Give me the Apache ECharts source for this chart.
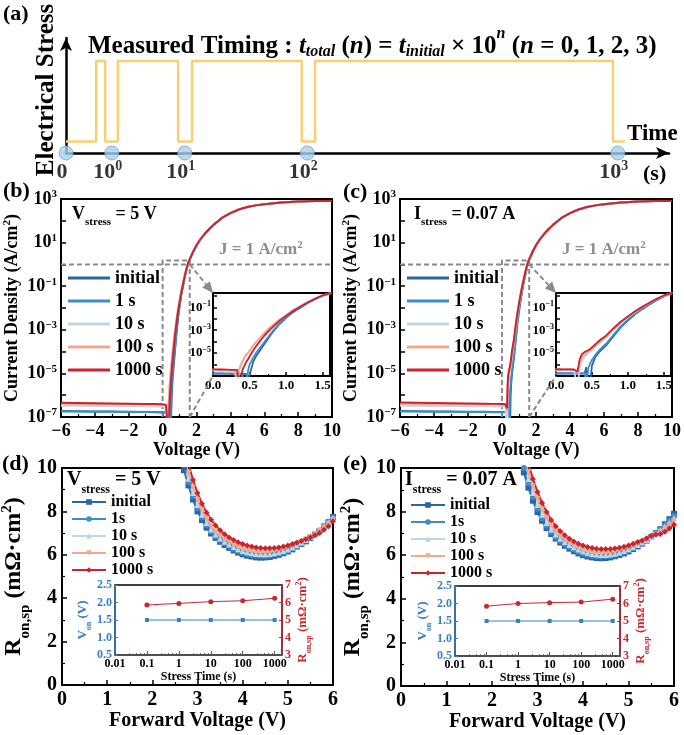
<!DOCTYPE html>
<html>
<head>
<meta charset="utf-8">
<script src="https://cdn.jsdelivr.net/npm/echarts@6/dist/echarts.min.js"></script>
<style>
html, body { margin: 0; padding: 0; background: #fff; }
#chart { width: 684px; height: 735px; }
</style>
</head>
<body>
<div id="chart"></div>
<script>
// ---- (a) timing schematic (arbitrary time units, 0..100) ----
const pulseT = [0, 5, 5, 6.5, 6.5, 8.6, 8.6, 18.6, 18.6, 20.9, 20.9, 39.1, 39.1, 41.3, 41.3, 90.7, 90.7, 92.7];
const pulseLevel = [1, 1, 8, 8, 1, 1, 8, 8, 1, 1, 8, 8, 1, 1, 8, 8, 1, 1];
const measureT = [0, 7.6, 19.7, 40, 91.5];
const measureExp = [null, 0, 1, 2, 3];

// ---- (b)/(c) J-V curves ----
const stressNames = ['initial', '1 s', '10 s', '100 s', '1000 s'];
const ivLowV = [-6, -5, -4, -3, -2, -1, -0.5, 0, 0.1, 0.2, 0.25, 0.3, 0.33, 0.36, 0.38, 0.4, 0.42, 0.45, 0.48, 0.5, 0.55, 0.6, 0.7, 0.8, 0.9, 1.0, 1.1, 1.2, 1.3, 1.4, 1.5];
const ivHighV = [1.6, 1.8, 2.0, 2.25, 2.5, 2.75, 3, 3.5, 4, 4.5, 5, 5.5, 6, 7, 8, 9, 10];
const ivHighJ = [1.7, 3.8, 7.5, 15, 26, 42, 65, 135, 225, 330, 430, 510, 580, 690, 760, 800, 820];

const jvB_initial = [1.9e-7, 1.85e-7, 1.8e-7, 1.78e-7, 1.75e-7, 1.7e-7, 1.68e-7, 1.65e-7, 1.65e-7, 1.6e-7, 1.6e-7, 1.6e-7, 1.6e-7, 1.6e-7, 1.6e-7, 1.6e-7, 1.55e-7, 1.5e-7, 1e-8, 1.2e-7, 1.8e-6, 7e-6, 6e-5, 5e-4, 3e-3, 1.2e-2, 4e-2, 0.1, 0.25, 0.55, 1.05];
const jvB_1s = [1.8e-7, 1.78e-7, 1.75e-7, 1.72e-7, 1.7e-7, 1.68e-7, 1.65e-7, 1.62e-7, 1.6e-7, 1.6e-7, 1.58e-7, 1.55e-7, 1.55e-7, 1.55e-7, 1.5e-7, 1.5e-7, 1.5e-7, 1e-8, 3e-7, 1e-6, 4e-6, 1.3e-5, 9e-5, 6e-4, 3.5e-3, 1.3e-2, 4.2e-2, 0.1, 0.26, 0.55, 1.05];
const jvB_10s = [3.3e-7, 3.3e-7, 3.2e-7, 3.2e-7, 3.1e-7, 3.1e-7, 3e-7, 3e-7, 3e-7, 3e-7, 2.9e-7, 2.9e-7, 1e-8, 5e-7, 1e-6, 2e-6, 3.5e-6, 7e-6, 1.2e-5, 1.8e-5, 5e-5, 1.2e-4, 6e-4, 2.5e-3, 8e-3, 2.2e-2, 6e-2, 0.14, 0.3, 0.6, 1.1];
const jvB_100s = [4.1e-7, 4e-7, 4e-7, 3.9e-7, 3.9e-7, 3.8e-7, 3.7e-7, 3.6e-7, 3.6e-7, 3.5e-7, 3.5e-7, 3.4e-7, 1e-8, 4e-7, 8e-7, 1.6e-6, 3e-6, 6e-6, 1e-5, 1.5e-5, 4.5e-5, 1.1e-4, 5.5e-4, 2.3e-3, 7.5e-3, 2.1e-2, 5.8e-2, 0.14, 0.3, 0.6, 1.1];
const jvB_1000s = [4.5e-7, 4.4e-7, 4.3e-7, 4.2e-7, 4.1e-7, 4e-7, 3.9e-7, 3.8e-7, 3.7e-7, 3.6e-7, 3.5e-7, 3.5e-7, 3.4e-7, 1e-8, 5e-8, 3e-7, 6e-7, 1.5e-6, 3e-6, 5e-6, 1.8e-5, 5e-5, 3.3e-4, 1.5e-3, 6e-3, 1.8e-2, 5e-2, 0.12, 0.28, 0.58, 1.1];

const jvC_initial = [1.9e-7, 1.85e-7, 1.8e-7, 1.78e-7, 1.75e-7, 1.72e-7, 1.7e-7, 1.7e-7, 1.7e-7, 1.7e-7, 1.7e-7, 1.7e-7, 1.7e-7, 1.7e-7, 1.7e-7, 1.8e-7, 6e-7, 1e-8, 5e-8, 8e-7, 5e-6, 1.2e-5, 5e-5, 3e-4, 1.8e-3, 7e-3, 2.5e-2, 7e-2, 0.18, 0.42, 0.9];
const jvC_1s = [1.8e-7, 1.78e-7, 1.75e-7, 1.72e-7, 1.7e-7, 1.68e-7, 1.66e-7, 1.65e-7, 1.65e-7, 1.65e-7, 1.65e-7, 1.65e-7, 1.65e-7, 1.65e-7, 1.65e-7, 1.65e-7, 1e-8, 5e-7, 1.5e-6, 2.5e-6, 7e-6, 1.8e-5, 7e-5, 4e-4, 2.2e-3, 8.5e-3, 2.8e-2, 7.5e-2, 0.19, 0.44, 0.92];
const jvC_10s = [3.3e-7, 3.3e-7, 3.2e-7, 3.2e-7, 3.1e-7, 3.1e-7, 3e-7, 3e-7, 3e-7, 3e-7, 3e-7, 1e-8, 6e-7, 2e-6, 3e-6, 5e-6, 7e-6, 1e-5, 1.4e-5, 1.8e-5, 3.5e-5, 7e-5, 2.5e-4, 1.1e-3, 4.5e-3, 1.4e-2, 4e-2, 0.1, 0.24, 0.52, 1.05];
const jvC_100s = [4.1e-7, 4e-7, 4e-7, 3.9e-7, 3.9e-7, 3.8e-7, 3.8e-7, 3.7e-7, 3.7e-7, 3.7e-7, 3.6e-7, 2e-7, 1.5e-6, 4e-6, 6e-6, 8e-6, 1e-5, 1.4e-5, 1.8e-5, 2.3e-5, 4.5e-5, 9e-5, 3e-4, 1.3e-3, 5e-3, 1.5e-2, 4.3e-2, 0.105, 0.25, 0.54, 1.08];
const jvC_1000s = [4.6e-7, 4.5e-7, 4.4e-7, 4.3e-7, 4.2e-7, 4.1e-7, 4e-7, 3.9e-7, 3.8e-7, 3.8e-7, 3.7e-7, 2.5e-7, 3e-6, 8e-6, 1e-5, 1.3e-5, 1.5e-5, 1.8e-5, 2.4e-5, 3e-5, 6e-5, 1.2e-4, 3.5e-4, 1.5e-3, 5.5e-3, 1.6e-2, 4.5e-2, 0.11, 0.25, 0.55, 1.1];

const jvB = [jvB_initial, jvB_1s, jvB_10s, jvB_100s, jvB_1000s];
const jvC = [jvC_initial, jvC_1s, jvC_10s, jvC_100s, jvC_1000s];

// zoomed window shown by the insets
const zoomV = [0, 1.6];
const zoomJ = [1e-7, 1.5];
const insetJmax = 1.8;
const guideJ = 1;

// ---- (d)/(e) Ron,sp vs forward voltage ----
const ronNames = ['initial', '1s', '10 s', '100 s', '1000 s'];
const ronV = [2.6, 2.7, 2.8, 2.9, 3.0, 3.1, 3.2, 3.3, 3.4, 3.5, 3.6, 3.7, 3.8, 3.9, 4.0, 4.1, 4.2, 4.3, 4.4, 4.5, 4.6, 4.7, 4.8, 4.9, 5.0, 5.1, 5.2, 5.3, 5.4, 5.5, 5.6, 5.7, 5.8, 5.9, 6.0];

const ronD_initial = [10.6, 9.9, 9.2, 8.55, 8.0, 7.6, 7.25, 6.98, 6.78, 6.6, 6.45, 6.32, 6.2, 6.1, 6.02, 5.96, 5.92, 5.88, 5.87, 5.88, 5.9, 5.95, 6.0, 6.07, 6.15, 6.25, 6.38, 6.5, 6.62, 6.78, 6.95, 7.1, 7.3, 7.5, 7.75];
const ronD_1s = [10.8, 10.05, 9.35, 8.7, 8.15, 7.72, 7.36, 7.07, 6.86, 6.68, 6.53, 6.4, 6.28, 6.18, 6.1, 6.04, 6.0, 5.97, 5.96, 5.96, 5.98, 6.02, 6.07, 6.13, 6.21, 6.31, 6.42, 6.54, 6.66, 6.8, 6.96, 7.12, 7.32, 7.52, 7.72];
const ronD_10s = [11.0, 10.25, 9.5, 8.85, 8.3, 7.85, 7.47, 7.17, 6.94, 6.75, 6.6, 6.47, 6.36, 6.26, 6.18, 6.12, 6.07, 6.04, 6.02, 6.02, 6.04, 6.07, 6.12, 6.18, 6.25, 6.34, 6.44, 6.56, 6.68, 6.82, 6.97, 7.12, 7.3, 7.5, 7.68];
const ronD_100s = [11.2, 10.5, 9.75, 9.1, 8.52, 8.05, 7.65, 7.32, 7.07, 6.87, 6.71, 6.58, 6.47, 6.37, 6.29, 6.22, 6.17, 6.14, 6.12, 6.12, 6.13, 6.16, 6.2, 6.26, 6.33, 6.41, 6.5, 6.6, 6.71, 6.83, 6.96, 7.1, 7.26, 7.43, 7.62];
const ronD_1000s = [11.6, 10.9, 10.2, 9.45, 8.85, 8.35, 7.95, 7.62, 7.35, 7.13, 6.95, 6.8, 6.68, 6.58, 6.5, 6.43, 6.38, 6.34, 6.31, 6.3, 6.3, 6.31, 6.34, 6.38, 6.43, 6.5, 6.57, 6.64, 6.72, 6.8, 6.9, 7.0, 7.15, 7.32, 7.55];

const ronE_initial = [10.5, 9.8, 9.1, 8.5, 7.98, 7.58, 7.24, 6.97, 6.76, 6.58, 6.43, 6.3, 6.18, 6.08, 6.0, 5.94, 5.9, 5.87, 5.86, 5.87, 5.9, 5.95, 6.01, 6.08, 6.17, 6.28, 6.4, 6.53, 6.67, 6.83, 7.0, 7.2, 7.42, 7.65, 7.9];
const ronE_1s = [10.7, 10.0, 9.3, 8.67, 8.13, 7.7, 7.35, 7.06, 6.84, 6.66, 6.51, 6.38, 6.26, 6.16, 6.08, 6.02, 5.98, 5.95, 5.94, 5.95, 5.97, 6.02, 6.08, 6.15, 6.24, 6.34, 6.46, 6.58, 6.72, 6.87, 7.03, 7.2, 7.38, 7.58, 7.8];
const ronE_10s = [10.9, 10.2, 9.5, 8.85, 8.3, 7.86, 7.48, 7.18, 6.95, 6.76, 6.6, 6.47, 6.36, 6.26, 6.18, 6.11, 6.06, 6.03, 6.01, 6.01, 6.03, 6.07, 6.12, 6.19, 6.27, 6.36, 6.47, 6.58, 6.7, 6.84, 6.99, 7.15, 7.32, 7.5, 7.7];
const ronE_100s = [11.2, 10.5, 9.8, 9.15, 8.58, 8.1, 7.7, 7.37, 7.11, 6.9, 6.73, 6.59, 6.47, 6.37, 6.28, 6.21, 6.16, 6.13, 6.11, 6.11, 6.12, 6.15, 6.2, 6.26, 6.33, 6.41, 6.5, 6.6, 6.7, 6.82, 6.94, 7.08, 7.22, 7.38, 7.56];
const ronE_1000s = [11.7, 10.95, 10.2, 9.5, 8.9, 8.4, 7.98, 7.62, 7.33, 7.1, 6.91, 6.76, 6.63, 6.53, 6.45, 6.38, 6.33, 6.3, 6.28, 6.28, 6.29, 6.31, 6.34, 6.39, 6.45, 6.52, 6.6, 6.68, 6.78, 6.88, 6.95, 6.97, 7.08, 7.22, 7.4];

const ronD = [ronD_initial, ronD_1s, ronD_10s, ronD_100s, ronD_1000s];
const ronE = [ronE_initial, ronE_1s, ronE_10s, ronE_100s, ronE_1000s];

// insets of (d)/(e)
const stressTime = [0.1, 1, 10, 100, 1000];
const vonD = [1.5, 1.5, 1.5, 1.5, 1.5];
const ronSpD = [5.86, 5.95, 6.05, 6.1, 6.24];
const vonE = [1.5, 1.5, 1.5, 1.5, 1.5];
const ronSpE = [5.85, 6.0, 6.05, 6.08, 6.25];

const seriesColors = ['#2b65a7', '#3d8dc9', '#bfd5e8', '#f0a98f', '#c9252d'];
const ronSymbols = ['rect', 'circle', 'triangle', 'triangle', 'diamond'];
const ronSymbolRotate = [0, 0, 0, 180, 0];
const blueAxis = '#3b7fc0';
const redAxis = '#c62a30';

const SERIF = "'Liberation Serif', 'Times New Roman', serif";

// rich styles for sub/superscripts
function rs(F, color) {
    const c = color || '#000';
    const small = Math.round(F * 0.62);
    const lift = Math.round(F * 0.28);
    const base = { fontFamily: SERIF, fontWeight: 'bold', color: c, verticalAlign: 'bottom' };
    return {
        b: Object.assign({}, base, { fontSize: F, lineHeight: F }),
        B: Object.assign({}, base, { fontSize: F, lineHeight: F, padding: [0, 0, lift, 0] }),
        i: Object.assign({}, base, { fontSize: F, lineHeight: F, fontStyle: 'italic' }),
        s: Object.assign({}, base, { fontSize: small, lineHeight: small }),
        si: Object.assign({}, base, { fontSize: small, lineHeight: small, fontStyle: 'italic' }),
        p: Object.assign({}, base, { fontSize: small, lineHeight: small, padding: [0, 0, Math.round(F * 0.45), 0] }),
        P: Object.assign({}, base, { fontSize: small, lineHeight: small, padding: [0, 0, Math.round(F * 0.45) + lift, 0] }),
        Pi: Object.assign({}, base, { fontSize: small, lineHeight: small, fontStyle: 'italic', padding: [0, 0, Math.round(F * 0.45) + lift, 0] })
    };
}

function minus(v) { return String(v).replace('-', '\u2212'); }

function powLabel(keep) {
    return function (v) {
        const e = Math.log10(v);
        const r = Math.round(e);
        if (Math.abs(e - r) > 0.01 || !keep(r)) return '';
        return '{b|10}{p|' + minus(r) + '}';
    };
}

function axisBase(F) {
    return {
        axisLine: { show: true, onZero: false, lineStyle: { color: '#000', width: 2 } },
        axisTick: { show: true, inside: true, length: 5, lineStyle: { color: '#000', width: 1.5 } },
        minorTick: { show: true, splitNumber: 2, length: 3, lineStyle: { color: '#000', width: 1.2 } },
        splitLine: { show: false },
        minorSplitLine: { show: false },
        axisLabel: { color: '#000', fontFamily: SERIF, fontWeight: 'bold', fontSize: F, margin: 5 },
        nameTextStyle: { color: '#000', fontFamily: SERIF, fontWeight: 'bold', fontSize: F }
    };
}
function ax(F, extra) {
    const a = axisBase(F);
    for (const k in extra) {
        if (a[k] && typeof extra[k] === 'object' && !Array.isArray(extra[k])) a[k] = Object.assign({}, a[k], extra[k]);
        else a[k] = extra[k];
    }
    return a;
}

const grids = [], xAxes = [], yAxes = [], series = [], legends = [];

function addGrid(g) {
    grids.push(Object.assign({ outerBoundsMode: 'none', containLabel: false }, g));
    return grids.length - 1;
}

// ---- (a) ----
const gA = addGrid({ left: 66, top: 38, width: 603, height: 115, show: false });
xAxes.push({
    type: 'value', gridIndex: gA, min: 0, max: 100,
    axisLine: { show: true, symbol: ['none', 'arrow'], symbolSize: [9, 13], lineStyle: { color: '#000', width: 2.5 } },
    axisTick: { show: false }, axisLabel: { show: false }, splitLine: { show: false }
});
yAxes.push({
    type: 'value', gridIndex: gA, min: 0, max: 10,
    axisLine: { show: true, symbol: ['none', 'arrow'], symbolSize: [9, 13], lineStyle: { color: '#000', width: 2.5 } },
    axisTick: { show: false }, axisLabel: { show: false }, splitLine: { show: false }
});
series.push({
    type: 'line', xAxisIndex: 0, yAxisIndex: 0, symbol: 'none', silent: true,
    data: pulseT.map((t, i) => [t, pulseLevel[i]]),
    lineStyle: { color: '#f8d072', width: 2.5 }
});
series.push({
    type: 'scatter', xAxisIndex: 0, yAxisIndex: 0, clip: false, symbolSize: 14, z: 5,
    data: measureT.map(t => [t, 0]),
    itemStyle: { color: '#a9cfeb', borderColor: '#6fa7d6', borderWidth: 1 },
    label: {
        show: true, position: 'bottom', distance: 1, offset: [-4, 0],
        formatter: p => measureExp[p.dataIndex] === null ? '{b|0}' : '{b|10}{p|' + measureExp[p.dataIndex] + '}',
        rich: rs(22)
    }
});

// ---- (b)/(c) ----
function ivPanel(tag, jvSets, mainBox, insetBox, legendPos) {
    const gm = addGrid(Object.assign({ show: true, borderColor: '#000', borderWidth: 2 }, mainBox));
    const xm = xAxes.length, ym = yAxes.length;
    xAxes.push(ax(18, {
        type: 'value', gridIndex: gm, min: -6, max: 10, interval: 2,
        axisLabel: { formatter: v => minus(v) },
        name: 'Voltage (V)', nameLocation: 'middle', nameGap: 23
    }));
    yAxes.push(ax(18, {
        type: 'log', logBase: 10, gridIndex: gm, min: 1e-7, max: 1e3, interval: 1,
        axisLabel: { formatter: powLabel(r => r % 2 !== 0), rich: rs(18), margin: 4 },
        minorTick: { show: false },
        name: '{b|Current Density (A/cm}{p|2}{b|)}', nameLocation: 'middle', nameGap: 40, nameRotate: 90,
        nameTextStyle: { rich: rs(18) }
    }));
    const gi = addGrid(Object.assign({ show: true, borderColor: '#000', borderWidth: 2, backgroundColor: '#fff' }, insetBox));
    const xi = xAxes.length, yi = yAxes.length;
    xAxes.push(ax(13, {
        type: 'value', gridIndex: gi, min: zoomV[0], max: zoomV[1], interval: 0.5,
        axisLabel: { formatter: v => v.toFixed(1), margin: 3 },
        axisTick: { length: 4 }, minorTick: { length: 2 }
    }));
    yAxes.push(ax(13, {
        type: 'log', logBase: 10, gridIndex: gi, min: zoomJ[0], max: insetJmax, interval: 1,
        axisLabel: { formatter: powLabel(r => r % 2 !== 0 && r > -7), rich: rs(13), margin: 2 },
        axisTick: { length: 4 }, minorTick: { show: false }
    }));
    const names = [];
    jvSets.forEach((lowJ, k) => {
        const data = ivLowV.map((v, i) => [v, lowJ[i]]).concat(ivHighV.map((v, i) => [v, ivHighJ[i]]));
        const name = tag + '|' + stressNames[k];
        names.push(name);
        series.push({
            name, type: 'line', xAxisIndex: xm, yAxisIndex: ym, symbol: 'none', clip: true, z: 3,
            data, lineStyle: { color: seriesColors[k], width: 2 }, itemStyle: { color: seriesColors[k] }
        });
        series.push({
            type: 'line', xAxisIndex: xi, yAxisIndex: yi, symbol: 'none', clip: true, z: 3,
            data, lineStyle: { color: seriesColors[k], width: 1.8 }, itemStyle: { color: seriesColors[k] }
        });
    });
    legends.push(Object.assign({
        data: names, orient: 'vertical', icon: 'rect', itemWidth: 42, itemHeight: 3, itemGap: 5,
        formatter: n => n.split('|')[1], selectedMode: false,
        textStyle: { fontFamily: SERIF, fontWeight: 'bold', fontSize: 18, color: '#000' }
    }, legendPos));
    return { gm, gi };
}

const panB = ivPanel('b', jvB, { left: 61, top: 199, width: 271, height: 218 }, { left: 213, top: 293, width: 117, height: 83 }, { left: 63, top: 264 });
const panC = ivPanel('c', jvC, { left: 400, top: 199, width: 272, height: 218 }, { left: 556, top: 293, width: 115, height: 83 }, { left: 402, top: 264 });

// ---- (d)/(e) ----
function ronPanel(tag, sets, von, ron, mainBox, insetBox, legendPos) {
    const gm = addGrid(Object.assign({ show: true, borderColor: '#000', borderWidth: 2 }, mainBox));
    const xm = xAxes.length, ym = yAxes.length;
    xAxes.push(ax(20, {
        type: 'value', gridIndex: gm, min: 0, max: 6, interval: 1,
        name: 'Forward Voltage (V)', nameLocation: 'middle', nameGap: 24,
        nameTextStyle: { fontSize: 20 }
    }));
    yAxes.push(ax(20, {
        type: 'value', gridIndex: gm, min: 0, max: 10, interval: 2,
        name: '{B|R}{s|on,sp}{B| (m\u03a9\u00b7cm}{P|2}{B|)}', nameLocation: 'middle', nameGap: 17, nameRotate: 90,
        nameTextStyle: { rich: rs(24) }
    }));
    const names = [];
    sets.forEach((vals, k) => {
        const name = tag + '|' + ronNames[k];
        names.push(name);
        series.push({
            name, type: 'line', xAxisIndex: xm, yAxisIndex: ym, clip: true, z: 3,
            symbol: ronSymbols[k], symbolRotate: ronSymbolRotate[k], symbolSize: 6, showAllSymbol: true,
            data: ronV.map((v, i) => [v, vals[i]]),
            lineStyle: { color: seriesColors[k], width: 2 }, itemStyle: { color: seriesColors[k] }
        });
    });
    legends.push(Object.assign({
        data: names, orient: 'vertical', itemWidth: 34, itemHeight: 7, itemGap: 1,
        formatter: n => n.split('|')[1], selectedMode: false,
        textStyle: { fontFamily: SERIF, fontWeight: 'bold', fontSize: 16, color: '#000' }
    }, legendPos));

    const gi = addGrid(Object.assign({ show: true, borderColor: '#000', borderWidth: 1.5, backgroundColor: '#fff' }, insetBox));
    const xi = xAxes.length;
    xAxes.push(ax(12, {
        type: 'log', logBase: 10, gridIndex: gi, min: 0.01, max: 1700,
        axisLine: { lineStyle: { width: 1.5 } },
        axisTick: { length: 4, lineStyle: { width: 1 } },
        minorTick: { show: true, splitNumber: 5, length: 2, lineStyle: { width: 0.8 } },
        axisLabel: {
            margin: 3,
            formatter: v => { const e = Math.log10(v); const r = Math.round(e); return Math.abs(e - r) > 0.01 ? '' : String(Math.pow(10, r).toFixed(Math.max(0, -r))); }
        },
        name: 'Stress Time (s)', nameLocation: 'middle', nameGap: 14, nameTextStyle: { fontSize: 12 }
    }));
    const yl = yAxes.length;
    yAxes.push(ax(12, {
        type: 'value', gridIndex: gi, min: 0.5, max: 2.5, interval: 0.5, position: 'left',
        axisLine: { lineStyle: { color: blueAxis, width: 1.5 } },
        axisTick: { length: 3, lineStyle: { color: blueAxis, width: 1 } },
        minorTick: { show: false },
        axisLabel: { color: blueAxis, formatter: v => v.toFixed(1), margin: 3 },
        name: '{B|V}{s|on}{B| (V)}', nameLocation: 'middle', nameGap: 20, nameRotate: 90,
        nameTextStyle: { rich: rs(13, blueAxis) }
    }));
    const yr = yAxes.length;
    yAxes.push(ax(12, {
        type: 'value', gridIndex: gi, min: 3, max: 7, interval: 1, position: 'right',
        axisLine: { lineStyle: { color: redAxis, width: 1.5 } },
        axisTick: { length: 3, lineStyle: { color: redAxis, width: 1 } },
        minorTick: { show: false },
        axisLabel: { color: redAxis, margin: 3 },
        name: '{B|R}{s|on,sp}{B| (m\u03a9\u00b7cm}{P|2}{B|)}', nameLocation: 'middle', nameGap: 13, nameRotate: 90,
        nameTextStyle: { rich: rs(13, redAxis) }
    }));
    series.push({
        type: 'line', xAxisIndex: xi, yAxisIndex: yl, symbol: 'rect', symbolSize: 4, z: 4,
        data: stressTime.map((t, i) => [t, von[i]]),
        lineStyle: { color: blueAxis, width: 1 }, itemStyle: { color: blueAxis }
    });
    series.push({
        type: 'line', xAxisIndex: xi, yAxisIndex: yr, symbol: 'circle', symbolSize: 5, z: 4,
        data: stressTime.map((t, i) => [t, ron[i]]),
        lineStyle: { color: redAxis, width: 1 }, itemStyle: { color: redAxis }
    });
}

ronPanel('d', ronD, vonD, ronSpD, { left: 62, top: 468, width: 271, height: 217 }, { left: 115, top: 585, width: 167, height: 70 }, { left: 66, top: 489 });
ronPanel('e', ronE, vonE, ronSpE, { left: 401, top: 468, width: 273, height: 218 }, { left: 455, top: 586, width: 165, height: 70 }, { left: 405, top: 492 });

// ---- texts ----
function txt(text, x, y, F, extra) {
    return {
        type: 'text', x, y, z: 20,
        style: Object.assign({ text, fontFamily: SERIF, fontWeight: 'bold', fontSize: F, fill: '#000', verticalAlign: 'middle', rich: rs(F) }, extra || {})
    };
}
const graphicTexts = [
    txt('(a)', 3, 14, 22),
    Object.assign(txt('Electrical Stress', 47, 90, 25, { align: 'center' }), { rotation: Math.PI / 2 }),
    txt('{b|Measured Timing : }{i|t}{si|total}{b| (}{i|n}{b|) = }{i|t}{si|initial}{b| \u00d7 10}{Pi|n}{b| (}{i|n}{b| = 0, 1, 2, 3)}', 88, 47, 25),
    txt('Time', 627, 134, 23),
    txt('(s)', 643, 174, 22),
    txt('(b)', 3, 191, 22),
    txt('(c)', 343, 192, 22),
    txt('(d)', 2, 464, 22),
    txt('(e)', 343, 464, 22),
    txt('{B|V}{s|stress}{B| = 5 V}', 72, 219, 18),
    txt('{B|I}{s|stress}{B| = 0.07 A}', 414, 219, 18),
    txt('{B|V}{s|stress}{B| = 5 V}', 67, 486, 20),
    txt('{B|I}{s|stress}{B| = 0.07 A}', 405, 486, 20)
];
const greyRich = rs(17, '#8d8d8d');
graphicTexts.push(txt('{b|J = 1 A/cm}{p|2}', 219, 250, 17, { rich: greyRich, fill: '#8d8d8d' }));
graphicTexts.push(txt('{b|J = 1 A/cm}{p|2}', 562, 250, 17, { rich: greyRich, fill: '#8d8d8d' }));

const chart = echarts.init(document.getElementById('chart'), null, { renderer: 'canvas' });
const option = {
    backgroundColor: '#fff',
    animation: false,
    grid: grids,
    xAxis: xAxes,
    yAxis: yAxes,
    legend: legends,
    series: series,
    graphic: graphicTexts
};
chart.setOption(option);

// dashed zoom guides, placed through the axes of each panel
function guides(p) {
    const px = (g, v) => chart.convertToPixel({ gridIndex: g }, v);
    const dash = { stroke: '#8a8a8a', lineWidth: 2, lineDash: [5, 3], fill: null };
    const out = [];
    const a = px(p.gm, [-6, guideJ]), b = px(p.gm, [10, guideJ]);
    out.push({ type: 'line', z: 1, shape: { x1: a[0], y1: a[1], x2: b[0], y2: b[1] }, style: dash });
    const r0 = px(p.gm, [zoomV[0], zoomJ[0]]), r1 = px(p.gm, [zoomV[1], zoomJ[1]]);
    out.push({ type: 'polyline', z: 1, shape: { points: [[r0[0], r0[1]], [r0[0], r1[1]], [r1[0], r1[1]], [r1[0], r0[1]]] }, style: dash });
    // arrow from the guide crossing to the inset's upper-left corner
    const s = px(p.gm, [zoomV[1], guideJ]);
    const t = px(p.gi, [zoomV[0], insetJmax]);
    const dx = t[0] - s[0], dy = t[1] - s[1], L = Math.hypot(dx, dy);
    const ux = dx / L, uy = dy / L;
    const bx = t[0] - ux * 11, by = t[1] - uy * 11;
    out.push({ type: 'line', z: 1, shape: { x1: s[0], y1: s[1], x2: bx, y2: by }, style: dash });
    out.push({ type: 'polygon', z: 6, shape: { points: [[t[0], t[1]], [bx - uy * 5, by + ux * 5], [bx + uy * 5, by - ux * 5]] }, style: { fill: '#8a8a8a' } });
    const q = px(p.gm, [zoomV[1], zoomJ[0]]);
    const w = px(p.gi, [zoomV[0], zoomJ[0]]);
    out.push({ type: 'line', z: 1, shape: { x1: q[0], y1: q[1], x2: w[0], y2: w[1] }, style: dash });
    return out;
}
chart.setOption({ graphic: graphicTexts.concat(guides(panB), guides(panC)) });
</script>
</body>
</html>
